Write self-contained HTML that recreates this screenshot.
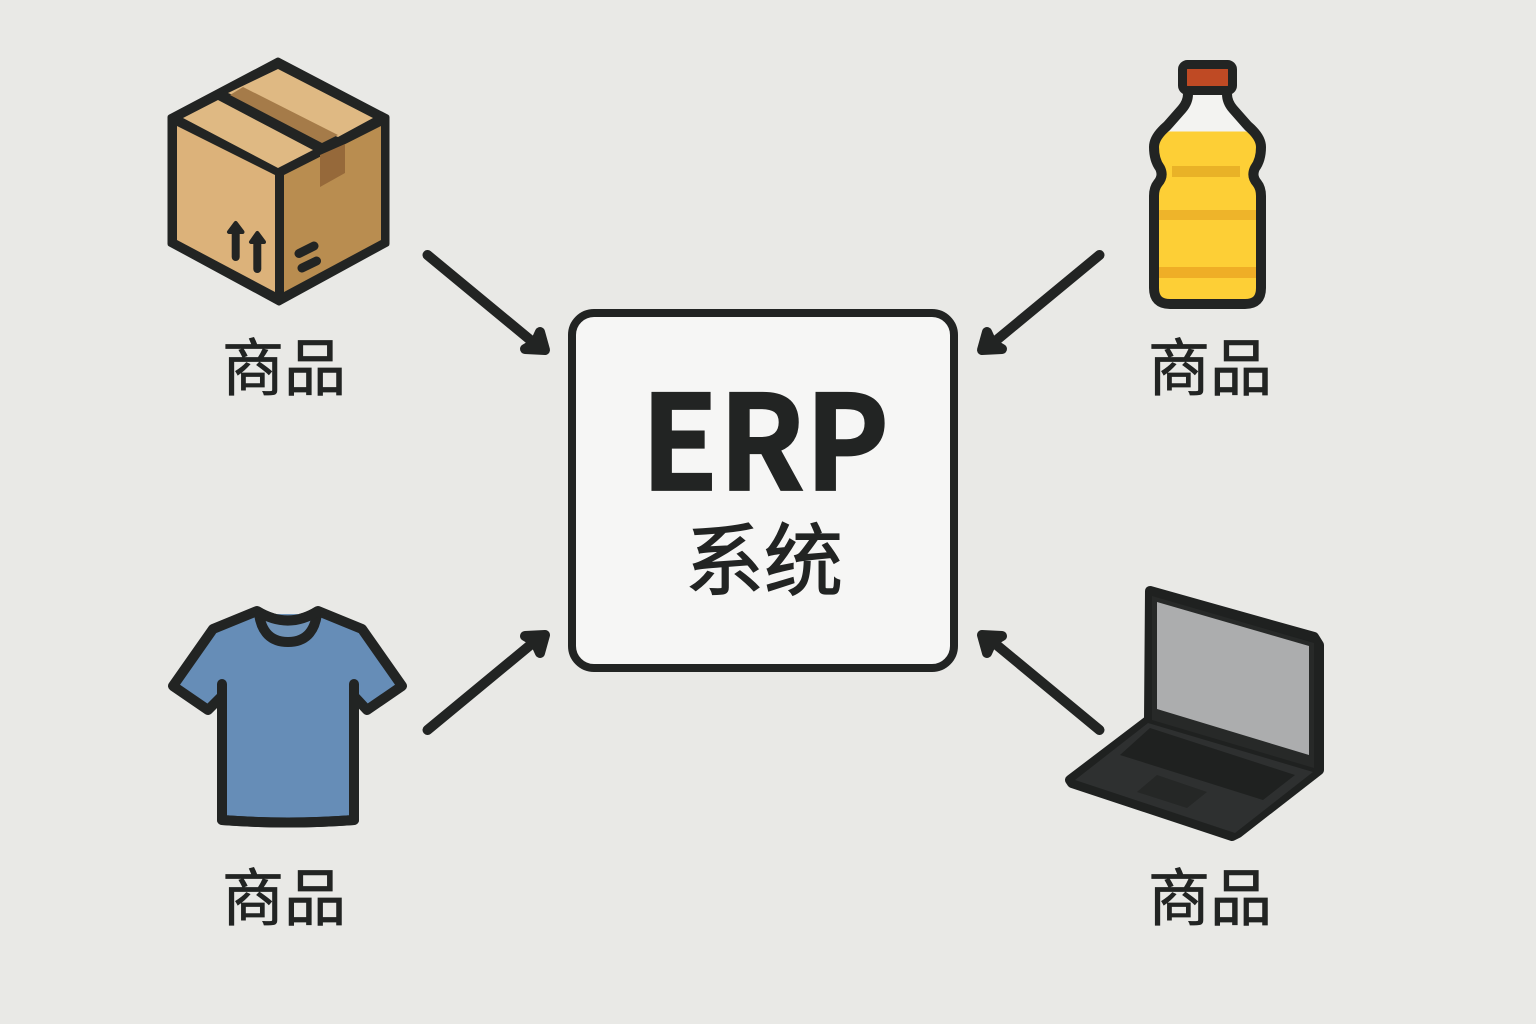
<!DOCTYPE html>
<html lang="zh"><head><meta charset="utf-8"><title>ERP 系统</title>
<style>
html,body{margin:0;padding:0;width:1536px;height:1024px;overflow:hidden;background:#e9e9e6}
svg{display:block}
text{font-family:"Noto Sans CJK SC","Liberation Sans",sans-serif;fill:#222423;stroke:#222423}
</style></head><body>
<svg xmlns="http://www.w3.org/2000/svg" width="1536" height="1024" viewBox="0 0 1536 1024">
<rect width="1536" height="1024" fill="#e9e9e6"/>

<!-- Box -->
<g stroke-linejoin="round" stroke-linecap="round">
<polygon points="278,60 387,117 387,244 279,303 170,244 170,117" fill="#222423" stroke="#222423" stroke-width="5"/>
<polygon points="177,126 275,175 275,292 177,240" fill="#dcb27a"/>
<polygon points="284,175 381,126 381,240 284,292" fill="#b98d50"/>
<polygon points="183,118 218,100 313,150 278,168" fill="#dfb983"/>
<polygon points="228,93 278,69 373,118 338,137" fill="#dfb983"/>
<polygon points="230,95 243,87 338,135 322,143" fill="#a57b49"/>
<polygon points="320,155 345,144 345,173 320,187" fill="#96693a"/>
<path d="M235.700,232 V257 M257.300,242 V269" stroke="#222423" stroke-width="8" fill="none"/>
<polygon points="235.700,223 229,232 242.500,232" fill="#222423" stroke="#222423" stroke-width="4"/>
<polygon points="257.300,233 251,242 264,242" fill="#222423" stroke="#222423" stroke-width="4"/>
<path d="M299,253.500 L314,246 M302,268 L316.500,261" stroke="#222423" stroke-width="9" fill="none"/>
</g>

<!-- Bottle -->
<path d="M1188,94 Q1188,102 1182,109 L1167,126 Q1154,137 1154,147 Q1154,160 1160,168 Q1164,176 1158,183 Q1154,188 1154,196 V288 Q1154,304 1170,304 H1245 Q1261,304 1261,288 V196 Q1261,188 1257,183 Q1251,176 1255,168 Q1261,160 1261,147 Q1261,137 1248,126 L1233,109 Q1227,102 1227,94 Z" fill="#f3f3f1"/>
<path d="M1169,131.500 H1246 Q1261,137 1261,147 Q1261,160 1255,168 Q1251,176 1257,183 Q1261,188 1261,196 V288 Q1261,304 1245,304 H1170 Q1154,304 1154,288 V196 Q1154,188 1158,183 Q1164,176 1160,168 Q1154,160 1154,147 Q1154,137 1169,131.500 Z" fill="#fdcf36"/>
<rect x="1172" y="166" width="68" height="11" fill="#e9b227"/>
<rect x="1158" y="210" width="100" height="10" fill="#eeb42a"/>
<rect x="1158" y="267" width="100" height="11" fill="#efae26"/>
<path d="M1188,94 Q1188,102 1182,109 L1167,126 Q1154,137 1154,147 Q1154,160 1160,168 Q1164,176 1158,183 Q1154,188 1154,196 V288 Q1154,304 1170,304 H1245 Q1261,304 1261,288 V196 Q1261,188 1257,183 Q1251,176 1255,168 Q1261,160 1261,147 Q1261,137 1248,126 L1233,109 Q1227,102 1227,94" fill="none" stroke="#222423" stroke-width="10" stroke-linejoin="round"/>
<rect x="1182.500" y="64.500" width="50" height="26" rx="5" fill="#bf4a24" stroke="#222423" stroke-width="9"/>

<!-- Laptop -->
<g stroke-linejoin="round">
<polygon points="1150,591 1314,637 1319,645 1319,770 1238,833 1232,836 1072,783 1070,780 1149,720" fill="#1f2120" stroke="#1f2120" stroke-width="10"/>
<polygon points="1152,596 1314,643 1314,768 1152,720" fill="#272928"/>
<polygon points="1157,602 1309,646 1309,755 1157,709" fill="#acadae"/>
<polygon points="1148,723 1313,772 1235,833 1075,780" fill="#2e3030"/>
<polygon points="1150,728 1295,775 1263,800 1120,755" fill="#1f2120"/>
<polygon points="1157,775 1207,792 1187,808 1137,792" fill="#252726"/>
</g>

<!-- Shirt -->
<path d="M257,611 Q288,630 318,611 L362,629 L402,686 L367,710 L354,696 V820 Q288,825 222,820 V696 L208,710 L173,686 L213,629 Z" fill="#668db7" stroke="#222423" stroke-width="10" stroke-linejoin="round"/>
<path d="M222,684 V820 Q288,825 354,820 V684" fill="none" stroke="#222423" stroke-width="10" stroke-linecap="round" stroke-linejoin="round"/>
<path d="M259,614 Q263,642 288,642 Q313,642 317,614" fill="#6f93b8" stroke="#222423" stroke-width="10"/>
<path d="M257,611 Q288,630 318,611" fill="none" stroke="#222423" stroke-width="10"/>

<!-- Central node -->
<rect x="572" y="313" width="382" height="355" rx="22" fill="#f6f6f5" stroke="#222423" stroke-width="8"/>
<text transform="translate(765,490) scale(.944,.98)" x="0" y="0" font-size="134" font-weight="700" stroke-width="1.800" text-anchor="middle">ERP</text>
<text x="764" y="589" font-size="79" stroke-width="1.200" text-anchor="middle">系统</text>

<!-- Arrows -->
<g stroke="#222423" stroke-width="10" stroke-linecap="round" stroke-linejoin="round" fill="#222423">
<path d="M427.500,255 L540,348" fill="none"/><polygon stroke-width="10" points="540,332 545,350 525,349 535,343"/>
<path d="M1099.500,255 L987,348" fill="none"/><polygon stroke-width="10" points="987,332 982,350 1002,349 992,343"/>
<path d="M427.500,730 L540,637" fill="none"/><polygon stroke-width="10" points="540,653 545,635 525,636 535,642"/>
<path d="M1099.500,730 L987,637" fill="none"/><polygon stroke-width="10" points="987,653 982,635 1002,636 992,642"/>
</g>

<!-- Labels -->
<text x="284" y="390" font-size="62" stroke-width=".8" text-anchor="middle">商品</text>
<text x="1210" y="390" font-size="62" stroke-width=".8" text-anchor="middle">商品</text>
<text x="284" y="920" font-size="62" stroke-width=".8" text-anchor="middle">商品</text>
<text x="1210" y="920" font-size="62" stroke-width=".8" text-anchor="middle">商品</text>
</svg>
</body></html>
